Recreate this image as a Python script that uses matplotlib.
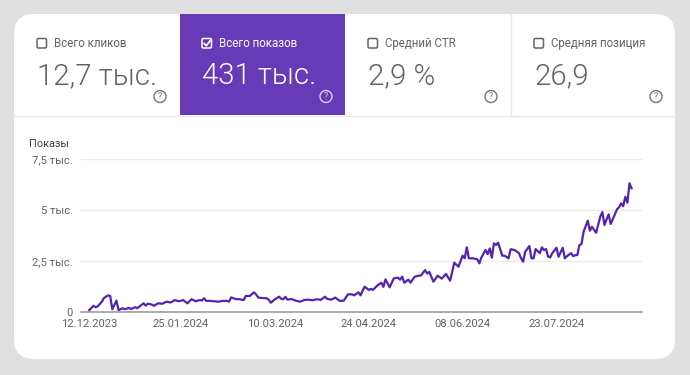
import datetime as dt
import matplotlib
matplotlib.use("Agg")
import matplotlib.pyplot as plt
from matplotlib.patches import FancyBboxPatch, Rectangle, Circle

plt.rcParams['font.family'] = ['Roboto', 'DejaVu Sans']

# summary tiles
tile_labels = ['Всего кликов', 'Всего показов', 'Средний CTR', 'Средняя позиция']
tile_values = ['12,7 тыс.', '431 тыс.', '2,9 %', '26,9']
tile_selected = [False, True, False, False]

# impressions per day (vertices of the line), day offset from start date
start_date = dt.date(2023, 12, 12)
day_offsets = [0, 2, 3, 4, 6, 7, 9, 10, 11, 13, 14, 16, 17, 19, 20, 22, 23, 24, 26, 27,
               28, 30, 31, 33, 35, 37, 39, 41, 43, 45, 47, 49, 51, 53, 54, 55, 56, 58, 60, 62,
               64, 66, 67, 68, 70, 72, 74, 75, 77, 78, 79, 80, 81, 83, 85, 86, 87, 89, 91, 92,
               93, 94, 95, 97, 99, 101, 103, 105, 107, 109, 111, 113, 114, 116, 118, 120, 122, 124, 126, 127,
               129, 130, 132, 134, 135, 136, 138, 139, 140, 141, 142, 144, 146, 148, 149, 150, 151, 153, 154, 156,
               158, 159, 161, 162, 163, 165, 167, 169, 171, 173, 175, 177, 179, 180, 181, 182, 184, 186, 187, 188,
               190, 191, 192, 193, 194, 195, 196, 198, 199, 200, 201, 202, 204, 206, 207, 208, 209, 211, 212, 213,
               214, 216, 217, 218, 219, 220, 221, 222, 224, 225, 226, 227, 228, 229, 231, 232, 233, 234, 235, 236,
               237, 239, 240, 241, 243, 245, 246, 247, 248, 249, 250, 252, 253, 254, 255, 256, 257, 258, 259, 260]
impressions = [110, 320, 250, 290, 520, 700, 830, 800, 150, 570, 110, 200, 150, 220, 160, 250, 200, 280, 440, 330,
               420, 380, 320, 440, 420, 520, 480, 600, 540, 600, 440, 640, 540, 600, 580, 690, 560, 560, 540, 520,
               560, 560, 520, 730, 650, 640, 600, 800, 800, 900, 980, 870, 720, 700, 690, 620, 470, 640, 765, 660,
               640, 760, 620, 650, 570, 520, 600, 620, 590, 640, 610, 765, 660, 620, 720, 560, 570, 880, 880, 830,
               980, 830, 1255, 1095, 1150, 1100, 1305, 1380, 1450, 1250, 1615, 1225, 1665, 1700, 1600, 1745, 1450, 1600, 1450, 1745,
               1800, 1800, 2070, 1900, 1980, 1500, 1795, 1650, 1880, 1550, 2430, 2235, 2775, 2650, 3185, 2645, 2645, 2600, 2400, 2690,
               3055, 2850, 3135, 2675, 3380, 3300, 3410, 2775, 2775, 2720, 2645, 3090, 3050, 2900, 2650, 2480, 2970, 3250, 2645, 2645,
               3100, 2900, 3185, 3050, 3100, 2725, 2700, 2900, 3165, 2725, 2950, 3165, 2645, 2750, 2900, 2750, 2800, 2810, 3300, 3350,
               3950, 4490, 4000, 4195, 3900, 4685, 4915, 4280, 4550, 4800, 4330, 4800, 5050, 5150, 5340, 5200, 5665, 5370, 6325, 6080]

x_ticks = ['12.12.2023', '25.01.2024', '10.03.2024', '24.04.2024', '08.06.2024', '23.07.2024']
y_ticks = [0, 2500, 5000, 7500]
y_tick_labels = ['0', '2,5 тыс.', '5 тыс.', '7,5 тыс.']

W, H = 690, 375
purple = '#673ab7'
line_color = '#5323b3'
grey_text = '#5f6368'

fig = plt.figure(figsize=(W / 100, H / 100), dpi=100)
fig.patch.set_facecolor('#e0e0e0')

# background axes in pixel coordinates
bg = fig.add_axes([0, 0, 1, 1])
bg.set_xlim(0, W)
bg.set_ylim(H, 0)
bg.axis('off')

bg.add_patch(FancyBboxPatch((14 + 20, 14 + 20), 661 - 40, 345 - 40,
                            boxstyle='round,pad=20', fc='white', ec='none'))
bg.add_patch(Rectangle((180, 14), 165, 101, fc=purple, ec='none'))
bg.plot([14, 675], [115.5, 115.5], color='#e8e8e8', lw=1)
bg.plot([511, 511], [14, 115], color='#e8e8e8', lw=1)

tile_x = [36, 201, 367, 533]
tile_help_x = [160, 326, 491, 656]
for i in range(4):
    c = 'white' if tile_selected[i] else '#5f6368'
    x0 = tile_x[i]
    bg.add_patch(FancyBboxPatch((x0 + 1, 38.5), 9.5, 9.5, boxstyle='round,pad=0,rounding_size=1.5',
                                fc='none', ec=c, lw=1.1))
    if tile_selected[i]:
        bg.plot([x0 + 3, x0 + 5.3, x0 + 9.2], [43.3, 45.8, 40.6], color='white', lw=1.2,
                solid_capstyle='round', solid_joinstyle='round')
    bg.text(x0 + 18, 43.5, tile_labels[i], fontsize=8.3, color=c, va='center', ha='left')
    bg.text(x0 + 1, 76, tile_values[i], fontsize=21.2, color=c, va='center', ha='left',
            fontweight=300)
    hc = '#ddd0f0' if tile_selected[i] else '#757575'
    bg.add_patch(Circle((tile_help_x[i], 96.5), 6, fc='none', ec=hc, lw=1.0))
    bg.text(tile_help_x[i], 96.8, '?', fontsize=6.3, color=hc, ha='center', va='center')

bg.text(29, 144, 'Показы', fontsize=7.8, color='#3c4043', ha='left', va='center')

# chart axes
ax_left, ax_right, ax_bottom, ax_top = 81, 642, 312.3, 159.3
ax = fig.add_axes([ax_left / W, (H - ax_bottom) / H, (ax_right - ax_left) / W, (ax_bottom - ax_top) / H])
ax.set_facecolor('none')

dates = [start_date + dt.timedelta(days=d) for d in day_offsets]
ax.plot(dates, impressions, color=line_color, lw=1.6, solid_joinstyle='round', zorder=3)

ax.set_ylim(0, 7500)
ax.set_xlim(start_date - dt.timedelta(days=4.8), start_date + dt.timedelta(days=265.4))
ax.set_yticks(y_ticks)
ax.set_yticklabels(y_tick_labels)
ax.set_xticks([dt.datetime.strptime(s, '%d.%m.%Y').date() for s in x_ticks])
ax.set_xticklabels(x_ticks)
ax.grid(axis='y', color='#ebebeb', lw=1)
ax.set_axisbelow(True)
for s in ['top', 'right', 'left']:
    ax.spines[s].set_visible(False)
ax.spines['bottom'].set_color('#9e9e9e')
ax.spines['bottom'].set_linewidth(1.2)
ax.tick_params(axis='both', length=0, labelsize=8.1, colors=grey_text)
ax.tick_params(axis='y', pad=6)
ax.tick_params(axis='x', pad=5)

fig.savefig('out.png', dpi=100, facecolor=fig.get_facecolor())
